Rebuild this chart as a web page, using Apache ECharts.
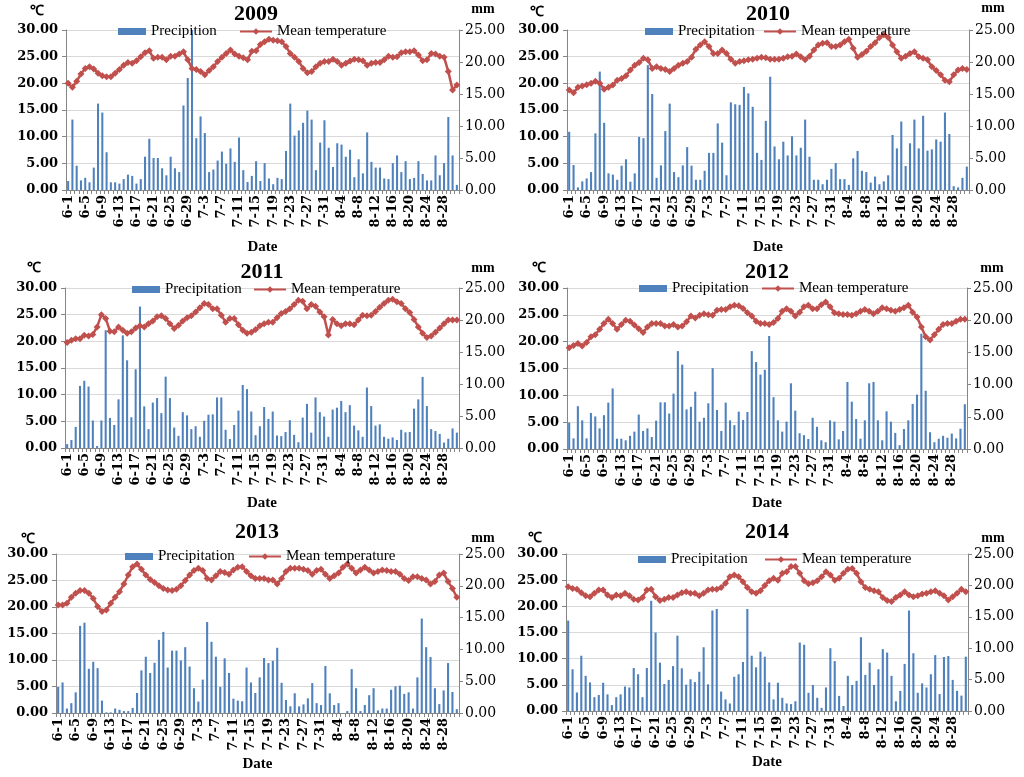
<!DOCTYPE html>
<html><head><meta charset="utf-8">
<script src="https://cdn.jsdelivr.net/npm/echarts@6/dist/echarts.min.js"></script>
<style>html,body{margin:0;padding:0;background:#fff}#c{width:1024px;height:777px}</style>
</head><body><div id="c"></div>
<script>
const dates = ['6-1','6-2','6-3','6-4','6-5','6-6','6-7','6-8','6-9','6-10','6-11','6-12','6-13','6-14','6-15','6-16','6-17','6-18','6-19','6-20','6-21','6-22','6-23','6-24','6-25','6-26','6-27','6-28','6-29','6-30',
'7-1','7-2','7-3','7-4','7-5','7-6','7-7','7-8','7-9','7-10','7-11','7-12','7-13','7-14','7-15','7-16','7-17','7-18','7-19','7-20','7-21','7-22','7-23','7-24','7-25','7-26','7-27','7-28','7-29','7-30','7-31',
'8-1','8-2','8-3','8-4','8-5','8-6','8-7','8-8','8-9','8-10','8-11','8-12','8-13','8-14','8-15','8-16','8-17','8-18','8-19','8-20','8-21','8-22','8-23','8-24','8-25','8-26','8-27','8-28','8-29','8-30','8-31'];

const years = ['2009','2010','2011','2012','2013','2014'];
const precipNames = ['Precipition','Precipitation','Precipitation','Precipitation','Precipitation','Precipitation'];
const tempName = 'Mean temperature';
const tempAxisTicks = [0, 30, 5];   // min, max, interval (℃)
const precipAxisTicks = [0, 25, 5]; // min, max, interval (mm)

const precip2009 = [1.4,11.0,3.8,1.5,1.9,1.2,3.5,13.5,12.1,5.9,1.2,1.2,1.0,1.7,2.4,2.2,1.0,1.7,5.2,8.0,5.0,5.0,3.4,2.3,5.2,3.4,2.8,13.2,17.5,25.0,8.1,11.5,8.9,2.8,3.2,4.6,6.0,4.1,6.5,4.4,8.2,3.1,1.25,2.2,4.5,1.4,
4.2,1.8,0.9,1.9,1.7,6.1,13.5,8.5,9.3,10.5,12.4,11.0,3.1,7.4,10.9,6.6,3.6,7.3,7.1,5.2,6.3,2.0,4.8,2.6,9.0,4.4,3.5,3.5,1.8,1.7,4.2,5.4,2.8,4.5,1.7,1.9,4.5,2.5,1.5,1.5,5.4,2.3,4.2,11.4,5.4,0.8];
const temp2009 = [20.0,19.25,20.4,21.75,22.8,23.1,22.7,21.9,21.4,21.25,21.25,21.9,22.6,23.4,23.9,23.75,24.25,25.0,25.75,26.1,24.7,24.9,24.9,24.4,25.1,25.1,25.5,25.9,24.4,22.8,22.6,22.2,21.6,22.4,23.1,24.1,24.9,25.6,26.25,25.5,25.1,24.8,24.4,26.0,26.1,27.3,
27.8,28.25,28.1,28.0,27.8,26.9,25.6,24.9,24.1,22.8,22.0,22.2,23.1,23.75,24.1,24.1,24.5,24.1,23.4,23.75,24.2,24.5,24.4,24.25,23.4,23.75,23.9,23.9,24.4,25.1,24.9,25.0,25.75,25.9,25.9,26.1,25.3,24.25,24.4,25.6,25.5,25.1,24.9,22.2,18.75,19.7];

const precip2010 = [9.1,3.9,0.4,1.35,1.8,2.8,8.85,18.5,10.5,2.6,2.4,1.6,3.8,4.8,1.3,2.6,8.3,8.1,19.5,15.0,1.9,3.85,9.2,13.5,2.8,2.0,3.85,6.7,3.8,1.6,1.6,3.0,5.8,5.8,10.4,7.4,2.3,13.7,13.4,13.3,16.1,15.1,13.0,5.8,4.7,10.8,17.7,
6.8,4.8,7.55,5.4,8.4,5.4,6.6,11.0,5.2,1.6,1.6,0.9,1.6,3.3,4.2,1.7,1.7,0.8,4.95,6.1,3.0,2.8,1.15,2.1,0.9,1.35,2.3,8.6,6.5,10.7,3.75,7.3,11.0,6.5,11.6,6.15,6.35,7.9,7.55,12.1,8.75,0.6,0.4,1.9,3.65];
const temp2010 = [18.75,18.25,19.25,19.5,19.75,20.0,20.4,20.0,18.9,19.25,19.7,20.6,20.9,21.4,22.5,23.4,23.9,24.7,24.4,22.8,23.1,22.8,22.6,22.2,22.8,23.4,23.75,24.1,24.9,26.4,27.2,27.8,26.9,25.6,25.6,26.25,25.6,24.5,23.75,24.1,24.25,24.4,24.5,24.7,24.9,24.8,24.5,
24.5,24.5,24.7,25.0,25.1,25.5,25.0,24.4,25.1,26.25,27.2,27.5,27.6,26.9,26.9,27.2,27.8,28.25,26.6,24.9,25.4,26.0,26.9,27.6,28.6,29.1,28.6,27.2,25.9,24.7,25.1,25.6,25.9,25.0,24.7,24.4,23.1,22.4,21.6,20.6,20.3,21.6,22.5,22.8,22.6];

const precip2011 = [0.6,1.25,3.3,9.7,10.5,9.6,4.3,0.3,4.3,18.4,4.7,3.6,7.6,17.6,13.7,4.8,12.3,22.1,6.5,2.95,7.1,7.8,5.45,11.15,7.8,3.2,1.9,5.6,5.1,2.95,3.4,1.75,4.25,5.2,5.25,7.9,7.9,2.85,1.4,3.6,5.85,9.85,9.2,5.7,2.0,3.4,
6.4,4.55,5.7,1.95,1.85,2.5,4.35,2.05,0.9,4.75,6.9,2.4,7.9,5.6,4.9,1.75,6.0,6.3,7.35,5.6,6.7,3.5,2.75,1.75,9.45,6.55,3.5,3.7,1.75,1.45,1.65,1.25,2.85,2.45,2.5,6.15,7.6,11.1,6.55,2.95,2.65,2.2,0.85,1.45,3.05,2.4];
const temp2011 = [19.8,20.2,20.5,20.5,21.15,21.0,21.3,22.7,25.0,24.3,21.9,21.8,22.7,22.1,21.5,21.8,22.5,22.9,22.7,23.3,23.8,24.6,24.8,24.3,23.3,22.4,23.0,23.8,24.4,24.8,25.5,26.3,27.1,26.9,26.1,26.1,24.9,23.6,24.3,24.3,23.1,22.1,21.5,21.7,22.2,22.9,
23.3,23.6,23.6,24.4,25.2,25.6,26.1,26.9,27.7,27.5,26.1,26.9,26.6,25.5,24.6,21.2,24.1,23.3,22.9,23.3,23.3,23.1,24.0,24.9,24.8,24.9,25.6,26.4,27.1,27.7,27.9,27.4,27.1,26.1,25.4,24.1,22.7,21.5,20.7,21.0,21.7,22.5,23.3,24.0,24.0,24.0];

const precip2012 = [4.1,1.65,6.65,4.45,1.65,5.6,5.05,3.2,5.25,7.2,9.4,1.6,1.6,1.35,2.05,2.7,5.35,2.8,3.2,1.85,4.4,7.25,7.25,5.5,8.6,15.2,13.1,6.15,6.55,8.9,4.25,4.85,7.1,12.55,6.05,2.8,7.2,4.45,3.7,5.8,4.5,5.75,15.2,13.5,11.55,12.3,17.55,
8.05,4.45,2.7,4.25,10.2,5.95,2.45,2.15,1.55,4.85,3.45,1.35,1.05,4.45,4.25,1.5,2.8,10.4,7.35,4.65,1.6,4.45,10.2,10.4,4.45,1.35,5.85,4.25,2.5,0.6,3.1,4.45,7.0,8.45,17.9,9.05,2.6,1.05,1.6,2.05,1.75,2.4,1.65,3.15,6.95];
const temp2012 = [18.85,19.3,19.65,19.2,19.85,20.9,21.3,22.3,23.4,24.2,23.4,22.3,23.2,24.0,23.8,23.1,22.4,21.7,22.75,23.4,23.4,23.4,22.9,22.9,23.2,22.75,22.9,23.7,24.8,24.4,24.9,25.2,25.0,24.9,25.85,26.0,26.0,26.5,26.8,26.7,26.2,25.4,24.8,23.8,23.4,23.4,23.2,
23.55,24.3,25.65,26.15,25.65,24.8,25.5,26.5,26.8,26.15,26.15,26.9,27.4,26.5,25.4,25.2,25.05,25.05,24.9,25.2,25.65,26.0,25.65,25.2,25.65,26.3,26.15,25.85,25.65,26.0,26.3,26.8,25.5,24.6,22.75,20.9,20.3,21.3,22.3,23.2,23.4,23.4,23.8,24.2,24.2];

const precip2013 = [4.1,4.8,0.7,1.55,3.25,13.7,14.2,6.95,8.05,7.05,1.95,0.1,0.1,0.7,0.5,0.3,0.3,0.8,3.15,6.7,8.85,6.3,7.9,11.5,12.75,7.15,9.8,9.8,8.25,10.35,7.3,3.9,1.8,5.25,14.3,11.2,8.85,4.1,8.6,6.3,2.25,1.95,1.85,7.15,4.8,3.15,5.6,
8.65,7.85,8.2,10.25,4.75,2.05,1.05,3.1,1.05,1.35,2.3,4.7,1.55,1.25,7.4,3.1,1.25,1.55,0,0.3,6.9,3.9,0.3,1.25,2.8,3.9,0.4,0.7,0.7,3.65,4.2,4.3,3.0,3.25,0.7,5.6,14.85,10.35,8.8,3.9,1.4,3.55,7.85,3.3,0.6];
const temp2013 = [20.4,20.4,20.7,21.85,22.6,23.1,23.1,22.6,21.6,20.1,19.15,19.45,20.7,21.85,22.9,24.35,26.05,27.6,28.1,27.1,26.05,25.2,24.6,24.0,23.5,23.2,23.1,23.35,24.0,25.0,26.05,26.9,27.3,26.9,25.4,25.1,25.9,26.7,26.5,26.2,27.0,27.5,27.6,26.7,25.9,25.4,25.4,
25.4,25.1,25.1,24.35,25.4,26.7,27.3,27.3,27.3,27.1,26.9,26.2,26.9,27.1,26.2,25.4,25.9,26.4,27.5,28.1,27.3,26.4,27.0,27.5,27.0,26.4,26.7,27.0,26.9,26.7,26.7,26.2,25.4,25.0,25.7,25.7,25.4,25.1,24.35,24.8,26.05,26.4,24.8,23.5,21.85];

const precip2014 = [14.4,6.65,2.95,8.8,5.6,4.55,2.2,2.55,4.5,2.65,0.95,2.2,2.65,3.9,3.75,6.85,5.85,2.2,6.85,17.55,12.5,7.7,4.3,4.95,7.15,12.0,6.8,4.2,5.05,4.6,6.25,10.15,4.25,16.0,16.25,3.1,1.85,1.2,5.45,5.85,7.8,16.25,8.8,6.95,9.45,8.65,4.55,
1.85,4.5,2.1,1.2,1.1,1.55,10.9,10.55,2.9,4.15,2.1,0.5,3.75,10.0,7.95,2.4,0.8,5.6,4.15,4.8,11.75,5.75,7.7,4.15,6.65,9.85,9.3,5.6,1.55,3.2,7.5,16.0,9.2,2.9,4.4,3.75,5.85,8.9,2.7,8.6,8.75,4.95,3.2,2.45,8.65];
const temp2014 = [23.75,23.4,23.25,22.6,22.0,21.85,22.5,23.1,23.1,22.15,21.7,22.15,22.0,22.5,22.0,21.35,21.2,21.7,23.1,23.25,21.85,21.1,21.35,21.7,21.7,22.15,22.6,22.8,22.5,22.5,22.0,22.5,23.1,23.25,23.25,23.6,24.4,25.65,26.0,25.65,24.7,23.6,22.8,22.5,23.0,24.0,24.9,
25.35,25.0,26.3,26.6,27.6,27.6,26.3,24.9,24.3,24.5,24.9,25.65,26.6,26.0,25.0,25.35,26.3,27.1,27.25,26.3,24.7,23.6,23.25,23.0,22.8,21.7,21.1,20.9,21.7,22.15,22.8,22.15,21.85,22.0,22.35,22.5,22.8,23.0,22.5,22.0,21.2,21.85,22.5,23.25,22.8];

const precipData = [precip2009, precip2010, precip2011, precip2012, precip2013, precip2014];
const tempData = [temp2009, temp2010, temp2011, temp2012, temp2013, temp2014];

// layout (pixels)
const layout = [
  {grid:{left:66,top:30,width:393,height:160}, title:[256,3], lgBar:[118,24], lgLine:[239,24], cU:[37,11], mU:[483,9], gap:50},
  {grid:{left:567,top:30,width:402,height:160}, title:[768,3], lgBar:[645,24], lgLine:[763,24], cU:[537,12], mU:[993,8], gap:50},
  {grid:{left:65,top:288,width:394,height:160}, title:[262,261], lgBar:[132,282], lgLine:[253,282], cU:[34,268], mU:[483,268], gap:48},
  {grid:{left:567,top:288,width:400,height:161}, title:[767,261], lgBar:[639,281], lgLine:[761,281], cU:[539,268], mU:[992,268], gap:47},
  {grid:{left:56,top:554,width:403,height:159}, title:[257,521], lgBar:[125,549], lgLine:[248,549], cU:[28,539], mU:[483,538], gap:44},
  {grid:{left:566,top:554,width:402,height:157}, title:[767,521], lgBar:[638,552], lgLine:[764,552], cU:[535,538], mU:[993,538], gap:44}
];

const SERIF = '"Liberation Serif","Times New Roman",serif';
const WIDE = '"DejaVu Serif",serif';
const AXIS_GRAY = '#868686';
const fmt = v => v.toFixed(2);

const option = {animation:false, backgroundColor:'#fff', grid:[], xAxis:[], yAxis:[], series:[], title:[], legend:[], graphic:[]};

layout.forEach((L, p) => {
  option.grid.push(Object.assign({containLabel:false}, L.grid));
  option.xAxis.push({
    type:'category', gridIndex:p, data:dates, boundaryGap:true,
    name:'Date', nameLocation:'middle', nameGap:L.gap,
    nameTextStyle:{fontFamily:SERIF, fontWeight:'bold', fontSize:15, color:'#000'},
    axisLine:{lineStyle:{color:AXIS_GRAY, width:1}},
    axisTick:{show:true, interval:0, length:4, lineStyle:{color:AXIS_GRAY}},
    axisLabel:{interval:3, rotate:90, margin:5, fontFamily:WIDE, fontWeight:'bold', fontSize:13, color:'#000'},
    splitLine:{show:false}
  });
  option.yAxis.push({
    type:'value', gridIndex:p, position:'left', min:tempAxisTicks[0], max:tempAxisTicks[1], interval:tempAxisTicks[2],
    axisLine:{show:true, lineStyle:{color:AXIS_GRAY}},
    axisTick:{show:true, length:4, lineStyle:{color:AXIS_GRAY}},
    axisLabel:{formatter:fmt, margin:8, fontFamily:WIDE, fontWeight:'bold', fontSize:13, color:'#000'},
    splitLine:{show:true, lineStyle:{color:'#d9d9d9', width:1}}
  });
  option.yAxis.push({
    type:'value', gridIndex:p, position:'right', min:precipAxisTicks[0], max:precipAxisTicks[1], interval:precipAxisTicks[2],
    axisLine:{show:true, lineStyle:{color:AXIS_GRAY}},
    axisTick:{show:true, length:4, lineStyle:{color:AXIS_GRAY}},
    axisLabel:{formatter:fmt, margin:6, fontFamily:WIDE, fontWeight:'normal', fontSize:14, color:'#000'},
    splitLine:{show:false}
  });
  option.series.push({
    name:precipNames[p], type:'bar', xAxisIndex:p, yAxisIndex:2*p+1, data:precipData[p],
    barWidth:'48%', itemStyle:{color:'#4f81bd'}, z:2
  });
  option.series.push({
    name:tempName, type:'line', xAxisIndex:p, yAxisIndex:2*p, data:tempData[p],
    symbol:'diamond', symbolSize:7, showAllSymbol:true,
    lineStyle:{color:'#c0504d', width:2.5}, itemStyle:{color:'#c0504d'}, z:3
  });
  option.title.push({
    text:years[p], left:L.title[0], top:L.title[1], textAlign:'center', padding:0,
    textStyle:{fontFamily:SERIF, fontWeight:'bold', fontSize:22, color:'#000'}
  });
  option.legend.push({
    left:L.lgBar[0], top:L.lgBar[1], padding:0, selectedMode:false, itemWidth:28, itemHeight:7,
    data:[{name:precipNames[p], icon:'rect'}],
    textStyle:{fontFamily:SERIF, fontSize:15, color:'#000'}
  });
  option.legend.push({
    left:L.lgLine[0], top:L.lgLine[1], padding:0, selectedMode:false, itemWidth:32, itemHeight:8,
    data:[{name:tempName}],
    textStyle:{fontFamily:SERIF, fontSize:15, color:'#000'}
  });
  option.graphic.push({type:'text', x:L.cU[0], y:L.cU[1], style:{text:'℃', align:'center', verticalAlign:'middle', textAlign:'center', textVerticalAlign:'middle', font:'bold 14px ' + SERIF, fill:'#000'}});
  option.graphic.push({type:'text', x:L.mU[0], y:L.mU[1], style:{text:'mm', align:'center', verticalAlign:'middle', textAlign:'center', textVerticalAlign:'middle', font:'bold 14px ' + SERIF, fill:'#000'}});
});

const chart = echarts.init(document.getElementById('c'), null, {renderer:'canvas'});
chart.setOption(option);
</script>
</body></html>
